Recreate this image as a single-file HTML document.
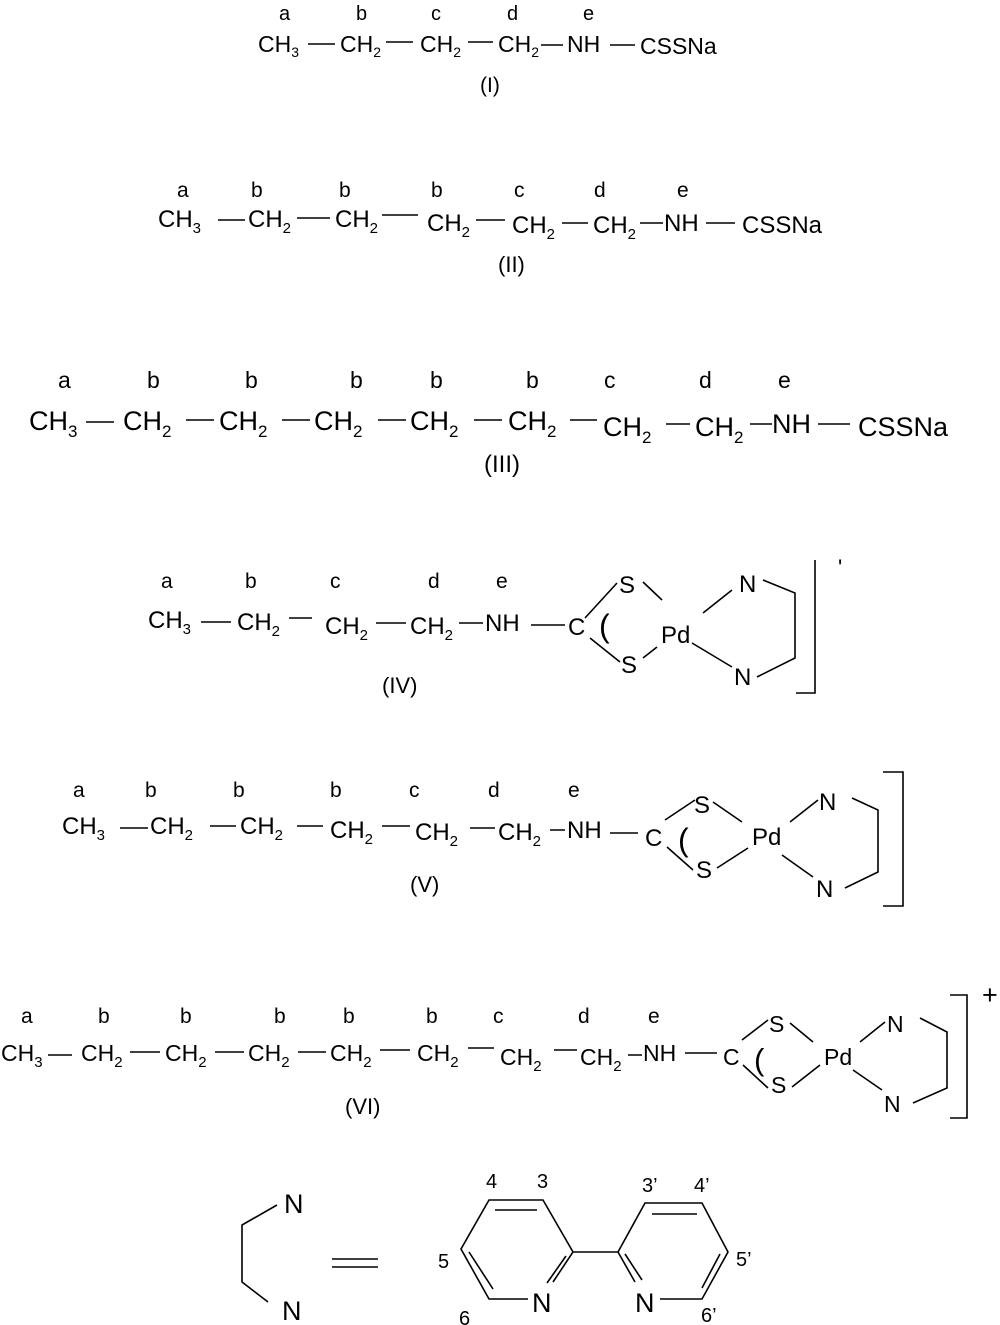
<!DOCTYPE html>
<html><head><meta charset="utf-8"><style>
html,body{margin:0;padding:0;background:#fff;}
svg{display:block;}
text{font-family:"Liberation Sans",Arial,sans-serif;fill:#000;}
</style></head><body>
<svg width="1000" height="1325" viewBox="0 0 1000 1325" xmlns="http://www.w3.org/2000/svg" stroke="#000" stroke-width="1.6" fill="none">
<!-- Row I -->
<g font-size="23" stroke="none">
<text x="279" y="20" font-size="20" fill="#000">a</text><text x="356" y="20" font-size="20" fill="#000">b</text><text x="431" y="20" font-size="20" fill="#000">c</text><text x="507" y="20" font-size="20" fill="#000">d</text><text x="583" y="20" font-size="20" fill="#000">e</text>
<text x="258" y="52" fill="#000">CH<tspan dy="5" font-size="14">3</tspan></text>
<text x="340" y="52" fill="#000">CH<tspan dy="5" font-size="14">2</tspan></text>
<text x="420" y="52" fill="#000">CH<tspan dy="5" font-size="14">2</tspan></text>
<text x="498" y="52" fill="#000">CH<tspan dy="5" font-size="14">2</tspan></text>
<text x="567" y="52" fill="#000">NH</text>
<text x="640" y="54" fill="#000">CSSNa</text>
<text x="480" y="92" font-size="21" fill="#000">(I)</text>
</g>
<path d="M308 44H335M386 42H413M468 42H493M541 45H563M610 45H635"/>
<!-- Row II -->
<g font-size="24" stroke="none">
<text x="177" y="197" font-size="21" fill="#000">a</text><text x="251" y="197" font-size="21" fill="#000">b</text><text x="339" y="197" font-size="21" fill="#000">b</text><text x="431" y="197" font-size="21" fill="#000">b</text><text x="514" y="197" font-size="21" fill="#000">c</text><text x="594" y="197" font-size="21" fill="#000">d</text><text x="677" y="197" font-size="21" fill="#000">e</text>
<text x="158" y="227" fill="#000">CH<tspan dy="6" font-size="15">3</tspan></text>
<text x="248" y="227" fill="#000">CH<tspan dy="6" font-size="15">2</tspan></text>
<text x="335" y="227" fill="#000">CH<tspan dy="6" font-size="15">2</tspan></text>
<text x="427" y="231" fill="#000">CH<tspan dy="6" font-size="15">2</tspan></text>
<text x="512" y="233" fill="#000">CH<tspan dy="6" font-size="15">2</tspan></text>
<text x="593" y="233" fill="#000">CH<tspan dy="6" font-size="15">2</tspan></text>
<text x="664" y="231" fill="#000">NH</text>
<text x="742" y="233" fill="#000">CSSNa</text>
<text x="498" y="272" font-size="22" fill="#000">(II)</text>
</g>
<path d="M218 220H245M297 218H330M382 215H418M476 220H505M562 223H588M640 223H663M706 223H735"/>
<!-- Row III -->
<g font-size="27" stroke="none">
<text x="58" y="388" font-size="23" fill="#000">a</text><text x="147" y="388" font-size="23" fill="#000">b</text><text x="245" y="388" font-size="23" fill="#000">b</text><text x="350" y="388" font-size="23" fill="#000">b</text><text x="430" y="388" font-size="23" fill="#000">b</text><text x="526" y="388" font-size="23" fill="#000">b</text><text x="604" y="388" font-size="23" fill="#000">c</text><text x="699" y="388" font-size="23" fill="#000">d</text><text x="778" y="388" font-size="23" fill="#000">e</text>
<text x="29" y="430" fill="#000">CH<tspan dy="7" font-size="17">3</tspan></text>
<text x="123" y="430" fill="#000">CH<tspan dy="7" font-size="17">2</tspan></text>
<text x="219" y="430" fill="#000">CH<tspan dy="7" font-size="17">2</tspan></text>
<text x="314" y="430" fill="#000">CH<tspan dy="7" font-size="17">2</tspan></text>
<text x="410" y="430" fill="#000">CH<tspan dy="7" font-size="17">2</tspan></text>
<text x="508" y="430" fill="#000">CH<tspan dy="7" font-size="17">2</tspan></text>
<text x="603" y="436" fill="#000">CH<tspan dy="7" font-size="17">2</tspan></text>
<text x="695" y="436" fill="#000">CH<tspan dy="7" font-size="17">2</tspan></text>
<text x="772" y="433" fill="#000">NH</text>
<text x="858" y="436" fill="#000">CSSNa</text>
<text x="484" y="472" font-size="24" fill="#000">(III)</text>
</g>
<path d="M86 422H114M186 420H214M282 420H310M378 420H406M474 420H502M570 420H597M666 424H690M750 424H772M818 424H850"/>
<!-- Row IV -->
<g font-size="24" stroke="none">
<text x="161" y="588" font-size="21" fill="#000">a</text><text x="245" y="588" font-size="21" fill="#000">b</text><text x="330" y="588" font-size="21" fill="#000">c</text><text x="428" y="588" font-size="21" fill="#000">d</text><text x="496" y="588" font-size="21" fill="#000">e</text>
<text x="148" y="628" fill="#000">CH<tspan dy="6" font-size="15">3</tspan></text>
<text x="237" y="630" fill="#000">CH<tspan dy="6" font-size="15">2</tspan></text>
<text x="325" y="634" fill="#000">CH<tspan dy="6" font-size="15">2</tspan></text>
<text x="410" y="634" fill="#000">CH<tspan dy="6" font-size="15">2</tspan></text>
<text x="485" y="631" fill="#000">NH</text>
<text x="568" y="635" fill="#000">C</text>
<text x="599" y="637" font-size="32" fill="#000">(</text>
<text x="619" y="593" fill="#000">S</text>
<text x="621" y="673" fill="#000">S</text>
<text x="661" y="643" fill="#000">Pd</text>
<text x="739" y="592" fill="#000">N</text>
<text x="734" y="685" fill="#000">N</text>
<text x="382" y="693" font-size="22" fill="#000">(IV)</text>
<text x="838" y="575" font-size="22" fill="#000">'</text>
</g>
<path d="M201 622H231M289 618H312M376 623H406M459 623H483M531 625H565"/>
<path d="M585 618L617 583M643 582L662 600M590 638L620 662M643 658L657 647M703 613L732 590M692 643L732 667M763 580L795 593V658L757 677M796 693H815V560"/>
<!-- Row V -->
<g font-size="24" stroke="none">
<text x="73" y="797" font-size="21" fill="#000">a</text><text x="145" y="797" font-size="21" fill="#000">b</text><text x="233" y="797" font-size="21" fill="#000">b</text><text x="330" y="797" font-size="21" fill="#000">b</text><text x="409" y="797" font-size="21" fill="#000">c</text><text x="488" y="797" font-size="21" fill="#000">d</text><text x="568" y="797" font-size="21" fill="#000">e</text>
<text x="62" y="834" fill="#000">CH<tspan dy="6" font-size="15">3</tspan></text>
<text x="150" y="834" fill="#000">CH<tspan dy="6" font-size="15">2</tspan></text>
<text x="240" y="834" fill="#000">CH<tspan dy="6" font-size="15">2</tspan></text>
<text x="330" y="838" fill="#000">CH<tspan dy="6" font-size="15">2</tspan></text>
<text x="415" y="840" fill="#000">CH<tspan dy="6" font-size="15">2</tspan></text>
<text x="498" y="840" fill="#000">CH<tspan dy="6" font-size="15">2</tspan></text>
<text x="567" y="838" fill="#000">NH</text>
<text x="645" y="846" fill="#000">C</text>
<text x="678" y="851" font-size="32" fill="#000">(</text>
<text x="694" y="813" fill="#000">S</text>
<text x="696" y="878" fill="#000">S</text>
<text x="752" y="845" fill="#000">Pd</text>
<text x="819" y="810" fill="#000">N</text>
<text x="816" y="897" fill="#000">N</text>
<text x="410" y="892" font-size="22" fill="#000">(V)</text>
</g>
<path d="M120 828H148M210 826H236M297 826H323M382 826H410M470 828H495M550 830H565M610 833H638M665 820L695 800M713 802L742 822M667 847L693 870M717 868L748 848M790 822L818 800M852 798L878 810V872L845 888M782 855L813 877M883 906H903V772H883"/>
<!-- Row VI -->
<g font-size="23" stroke="none">
<text x="21" y="1023" font-size="21" fill="#000">a</text><text x="98" y="1023" font-size="21" fill="#000">b</text><text x="180" y="1023" font-size="21" fill="#000">b</text><text x="274" y="1023" font-size="21" fill="#000">b</text><text x="343" y="1023" font-size="21" fill="#000">b</text><text x="426" y="1023" font-size="21" fill="#000">b</text><text x="493" y="1023" font-size="21" fill="#000">c</text><text x="578" y="1023" font-size="21" fill="#000">d</text><text x="648" y="1023" font-size="21" fill="#000">e</text>
<text x="1" y="1061" fill="#000">CH<tspan dy="6" font-size="15">3</tspan></text>
<text x="81" y="1061" fill="#000">CH<tspan dy="6" font-size="15">2</tspan></text>
<text x="165" y="1061" fill="#000">CH<tspan dy="6" font-size="15">2</tspan></text>
<text x="248" y="1061" fill="#000">CH<tspan dy="6" font-size="15">2</tspan></text>
<text x="330" y="1061" fill="#000">CH<tspan dy="6" font-size="15">2</tspan></text>
<text x="417" y="1061" fill="#000">CH<tspan dy="6" font-size="15">2</tspan></text>
<text x="500" y="1065" fill="#000">CH<tspan dy="6" font-size="15">2</tspan></text>
<text x="580" y="1065" fill="#000">CH<tspan dy="6" font-size="15">2</tspan></text>
<text x="643" y="1061" fill="#000">NH</text>
<text x="723" y="1065" fill="#000">C</text>
<text x="754" y="1070" font-size="31" fill="#000">(</text>
<text x="769" y="1032" fill="#000">S</text>
<text x="771" y="1093" fill="#000">S</text>
<text x="824" y="1065" fill="#000">Pd</text>
<text x="887" y="1032" fill="#000">N</text>
<text x="884" y="1112" fill="#000">N</text>
<text x="345" y="1114" font-size="22" fill="#000">(VI)</text>
<text x="982" y="1004" font-size="27" fill="#000">+</text>
</g>
<path d="M48 1055H72M130 1052H160M215 1052H244M298 1052H326M380 1050H410M468 1048H494M554 1050H577M628 1055H642M685 1053H717M742 1040L768 1020M790 1023L813 1042M743 1065L768 1088M792 1087L820 1065M860 1042L885 1022M920 1018L947 1032V1088L913 1103M853 1070L882 1090M950 1118H967V995H950"/>
<!-- Bottom -->
<g font-size="27" stroke="none">
<text x="284" y="1213" fill="#000">N</text>
<text x="282" y="1320" fill="#000">N</text>
<text x="532" y="1312" fill="#000">N</text>
<text x="635" y="1312" fill="#000">N</text>
<g font-size="20">
<text x="486" y="1188" fill="#000">4</text><text x="537" y="1188" fill="#000">3</text><text x="438" y="1268" fill="#000">5</text><text x="459" y="1325" fill="#000">6</text>
<text x="642" y="1192" fill="#000">3’</text><text x="694" y="1192" fill="#000">4’</text><text x="736" y="1266" fill="#000">5’</text><text x="701" y="1322" fill="#000">6’</text>
</g>
</g>
<path d="M277 1205L242 1225V1282L268 1302M332 1259H378M332 1267H378"/>
<path d="M528 1299H489L461 1249L489 1200H543L573 1252L553 1282M573 1252H618M618 1252L645 1203H702L728 1252L702 1299H660M618 1252L635 1282"/>
<path d="M495 1210H537M469 1252L493 1289M566 1256L547 1283M652 1214H697M625 1254L642 1280M720 1254L702 1288"/>
</svg>
</body></html>
